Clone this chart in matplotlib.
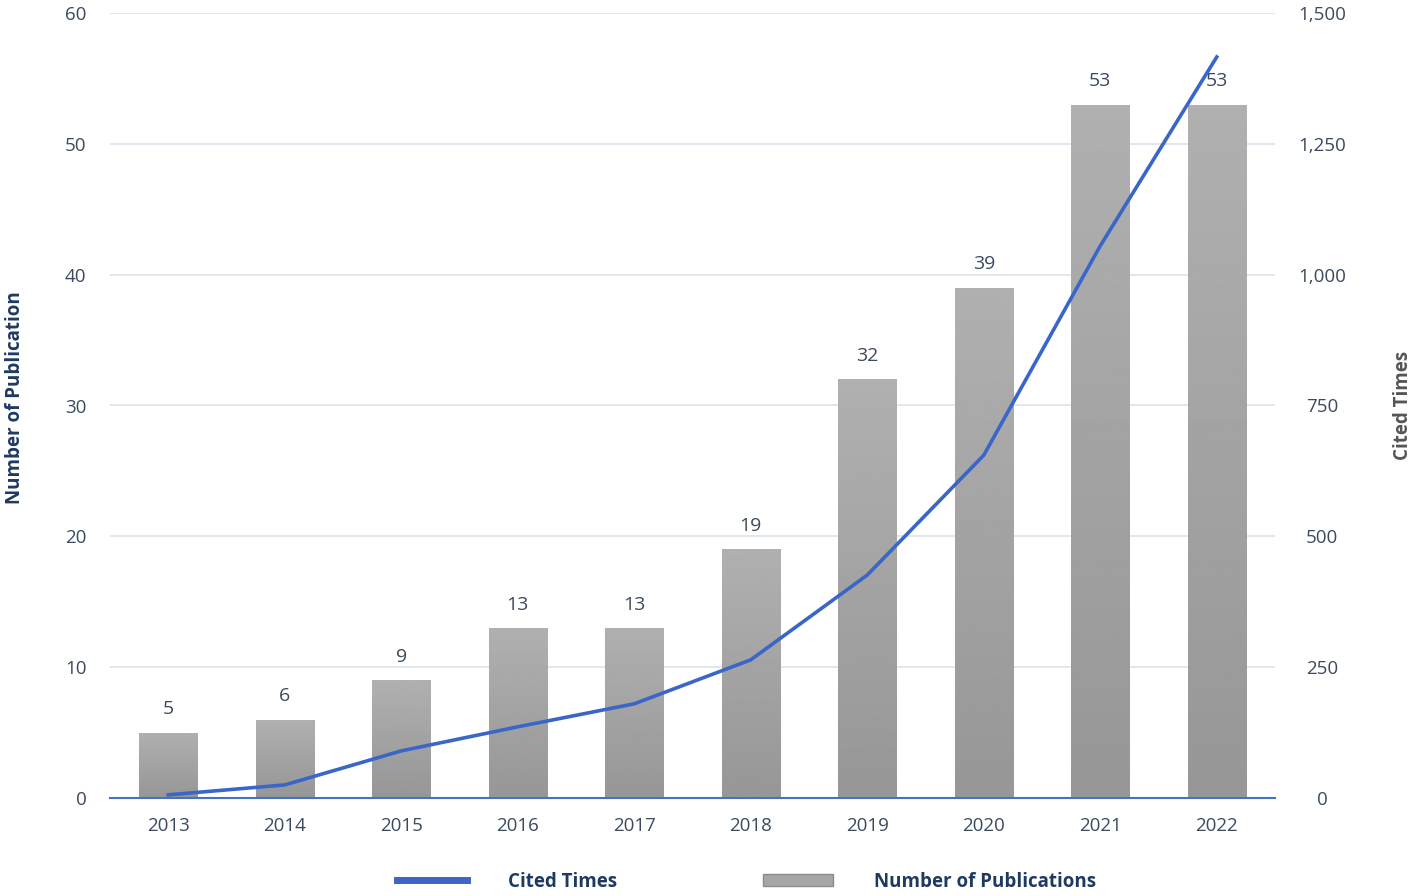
import numpy as np
import matplotlib.pyplot as plt
from matplotlib.lines import Line2D
from matplotlib.patches import Patch

years = ["2013", "2014", "2015", "2016", "2017", "2018", "2019", "2020", "2021", "2022"]
publications = [5, 6, 9, 13, 13, 19, 32, 39, 53, 53]
cited_times = [6, 25, 90, 136, 180, 264, 426, 655, 1055, 1416]

NAVY = "#1f3a5f"
TICK = "#3b4a5e"
BLUE = "#3a66c8"

plt.rcParams["font.family"] = ["Open Sans", "DejaVu Sans"]


def main():
    fig = plt.figure(figsize=(14.14, 8.96), dpi=100)
    ax = fig.add_axes([110 / 1414, 98 / 896, 1165 / 1414, 785 / 896])
    ax2 = ax.twinx()

    x = np.arange(len(years))
    width = 0.5
    bars = ax.bar(x, publications, width=width, color="#a6a6a6",
                  edgecolor="#8c8c8c", linewidth=0.6, zorder=2)

    # vertical gradient inside each bar (lighter top, darker bottom)
    grad = np.linspace(0.69, 0.59, 256).reshape(-1, 1)
    for b in bars:
        x0, y0 = b.get_x(), b.get_y()
        w, h = b.get_width(), b.get_height()
        im = ax.imshow(grad, extent=[x0, x0 + w, y0, y0 + h], aspect="auto",
                       cmap="gray", vmin=0, vmax=1, origin="upper", zorder=2.1)
        im.set_clip_path(b)

    for xi, v in zip(x, publications):
        ax.text(xi, v + 1.1, str(v), ha="center", va="bottom",
                fontsize=14, color=TICK)

    ax.set_xlim(-0.5, len(years) - 0.5)
    ax.set_ylim(0, 60)
    ax.set_yticks(range(0, 61, 10))
    ax.set_xticks(x)
    ax.set_xticklabels(years)
    ax.grid(axis="y", color="#dde3ec", linewidth=1.2, zorder=0)
    ax.set_axisbelow(True)

    ax2.plot(x, cited_times, color=BLUE, linewidth=2.6, zorder=5)
    ax2.set_ylim(0, 1500)
    ax2.set_yticks(range(0, 1501, 250))
    ax2.set_yticklabels([f"{t:,}" for t in range(0, 1501, 250)], ha="center")

    for a in (ax, ax2):
        for s in a.spines.values():
            s.set_visible(False)
        a.tick_params(length=0, labelsize=13.5, labelcolor=TICK)
    ax.spines["bottom"].set_visible(True)
    ax.spines["bottom"].set_color("#4472c4")
    ax.spines["bottom"].set_linewidth(1.5)
    ax.tick_params(axis="x", pad=14)
    ax.tick_params(axis="y", pad=17)
    ax2.tick_params(axis="y", pad=34)

    ax.set_ylabel("Number of Publication", fontsize=13.5, fontweight="bold",
                  color=NAVY)
    ax.yaxis.set_label_coords(-0.073, 0.51)
    ax2.set_ylabel("Cited Times", fontsize=13.5, fontweight="bold",
                   color="#555555")
    ax2.yaxis.set_label_coords(1.101, 0.5)

    handles = [Line2D([0], [0], color=BLUE, linewidth=5),
               Patch(facecolor="#a6a6a6", edgecolor="#8c8c8c")]
    fig.legend(handles, ["Cited Times", "Number of Publications"],
               loc="lower center", bbox_to_anchor=(0.528, -0.014), ncol=2,
               frameon=False, prop={"size": 13.5, "weight": "bold"},
               labelcolor=NAVY, handlelength=3.7, handleheight=0.6,
               handletextpad=2.2, columnspacing=7.8)

    fig.savefig("out.png", dpi=100)


if __name__ == "__main__":
    main()
